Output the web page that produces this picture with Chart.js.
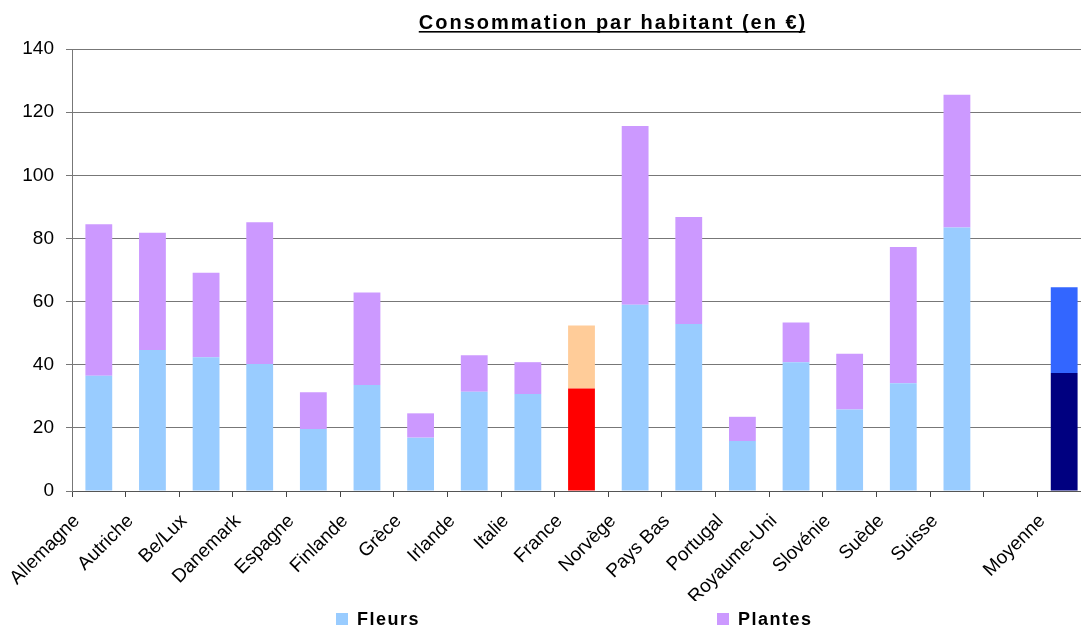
<!DOCTYPE html>
<html>
<head>
<meta charset="utf-8">
<script src="https://cdn.jsdelivr.net/npm/chart.js@4.4.1/dist/chart.umd.min.js"></script>
<style>
  html, body { margin: 0; padding: 0; overflow: hidden; background: #ffffff; }
  #wrap { width: 1100px; height: 627px; position: relative; }
</style>
</head>
<body>
<div id="wrap"><canvas id="chart"></canvas></div>
<script>
// Consommation par habitant (en €) — fleurs et plantes, par pays
const categories = ['Allemagne', 'Autriche', 'Be/Lux', 'Danemark', 'Espagne', 'Finlande', 'Grèce',
  'Irlande', 'Italie', 'France', 'Norvège', 'Pays Bas', 'Portugal', 'Royaume-Uni', 'Slovénie',
  'Suède', 'Suisse', '', 'Moyenne'];

const fleurs  = [36.5, 44.7, 42.4, 40.2, 19.6, 33.6, 16.9, 31.4, 30.7, 32.5, 59.0, 52.9, 15.8, 40.8, 25.8, 34.1, 83.5, null, 37.4];
const plantes = [48.0, 37.1, 26.7, 44.9, 11.7, 29.3,  7.7, 11.6, 10.1, 19.9, 56.6, 33.9,  7.7, 12.6, 17.7, 43.2, 42.0, null, 27.1];

const yTicks = [0, 20, 40, 60, 80, 100, 120, 140];

const seriesNames = ['Fleurs', 'Plantes'];
const titleText = 'Consommation par habitant (en €)';

// colours: default, France, average
const fleursColors  = { base: '#99CCFF', France: '#FF0000', Moyenne: '#000080' };
const plantesColors = { base: '#CC99FF', France: '#FFCC99', Moyenne: '#3366FF' };

const FONT = '"Liberation Sans", Arial, Helvetica, sans-serif';

function colorFor(palette) {
  return (ctx) => {
    const name = categories[ctx.dataIndex];
    return (name in palette) ? palette[name] : palette.base;
  };
}

// underlined, letter-spaced title
const titlePlugin = {
  id: 'underlinedTitle',
  afterDraw(chart, args, opts) {
    const { ctx } = chart;
    ctx.save();
    ctx.font = 'bold ' + opts.size + 'px ' + FONT;
    ctx.letterSpacing = opts.spacing + 'px';
    ctx.fillStyle = '#000';
    ctx.textBaseline = 'alphabetic';
    ctx.textAlign = 'left';
    const w = ctx.measureText(opts.text).width - opts.spacing;
    const x = opts.x - w / 2;
    ctx.fillText(opts.text, x, opts.y);
    ctx.fillRect(x, opts.y + 2, w, 1.6);
    ctx.restore();
  }
};

// legend row along the bottom edge
const legendPlugin = {
  id: 'bottomLegend',
  afterDraw(chart, args, opts) {
    const { ctx } = chart;
    ctx.save();
    ctx.font = 'bold 18px ' + FONT;
    ctx.letterSpacing = opts.spacing + 'px';
    ctx.textBaseline = 'alphabetic';
    ctx.textAlign = 'left';
    chart.data.datasets.forEach((ds, i) => {
      const x = opts.xs[i];
      ctx.fillStyle = ds.legendColor;
      ctx.fillRect(x, opts.boxTop, opts.box, opts.box);
      ctx.fillStyle = '#000';
      ctx.fillText(ds.label, x + opts.textGap, opts.baseline);
    });
    ctx.restore();
  }
};

new Chart(document.getElementById('chart'), {
  type: 'bar',
  data: {
    labels: categories,
    datasets: [
      { label: seriesNames[0], data: fleurs,  backgroundColor: colorFor(fleursColors),  legendColor: fleursColors.base },
      { label: seriesNames[1], data: plantes, backgroundColor: colorFor(plantesColors), legendColor: plantesColors.base }
    ]
  },
  options: {
    responsive: true,
    maintainAspectRatio: false,
    animation: false,
    devicePixelRatio: 1,
    datasets: {
      bar: { barPercentage: 0.5, categoryPercentage: 1.0, borderWidth: 0 }
    },
    layout: { padding: { top: 49, left: 22, right: 9, bottom: 26 } },
    plugins: {
      legend: { display: false },
      title: { display: false },
      tooltip: { enabled: false },
      underlinedTitle: { text: titleText, x: 612, y: 29, size: 20, spacing: 2.0 },
      bottomLegend: { xs: [336, 717], boxTop: 613, box: 12, textGap: 21, baseline: 625, spacing: 1.5 }
    },
    scales: {
      x: {
        stacked: true,
        grid: { drawOnChartArea: false, drawTicks: true, tickLength: 6, color: '#444444' },
        border: { color: '#555555', width: 1 },
        ticks: {
          autoSkip: false, minRotation: 45, maxRotation: 45,
          padding: 13, labelOffset: -22,
          color: '#000', font: { family: FONT, size: 19 }
        },
        afterFit(scale) { scale.height = 110; }
      },
      y: {
        stacked: true,
        min: yTicks[0],
        max: yTicks[yTicks.length - 1],
        afterBuildTicks(scale) { scale.ticks = yTicks.map(v => ({ value: v })); },
        grid: { color: '#777777', lineWidth: 1, tickLength: 6 },
        border: { color: '#777777', width: 1 },
        ticks: { padding: 12, color: '#000', font: { family: FONT, size: 19 } },
        afterFit(scale) { scale.width = 50; }
      }
    }
  },
  plugins: [titlePlugin, legendPlugin]
});
</script>
</body>
</html>
